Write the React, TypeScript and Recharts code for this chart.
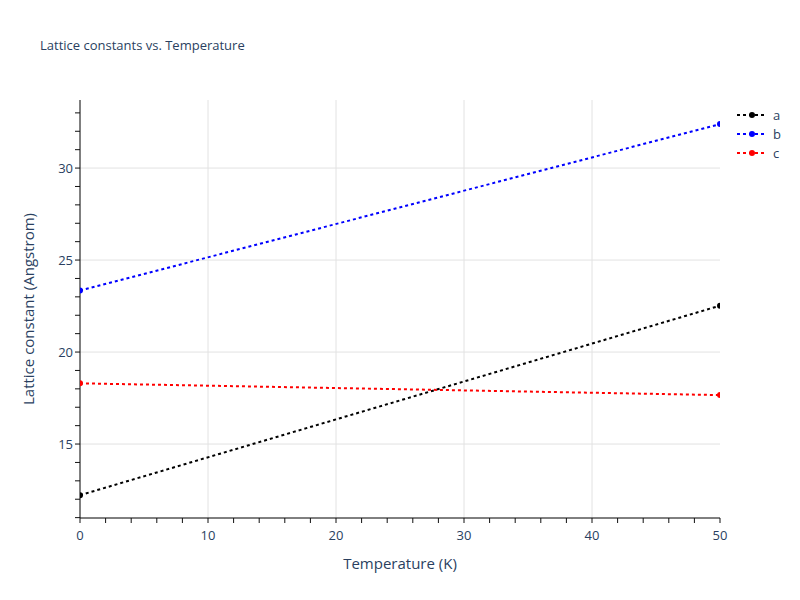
import React from 'react';
import { LineChart, Line, XAxis, YAxis, CartesianGrid, Legend } from 'recharts';

const temperatures = [0, 50];
const seriesA = [12.22, 22.52];
const seriesB = [23.34, 32.39];
const seriesC = [18.3, 17.66];
const seriesKeys = ['a', 'b', 'c'];
const seriesColors = ['#000000', '#0000ff', '#ff0000'];
const xTicks = [0, 2, 4, 6, 8, 10, 12, 14, 16, 18, 20, 22, 24, 26, 28, 30, 32, 34, 36, 38, 40, 42, 44, 46, 48, 50];
const xLabelTicks = [0, 10, 20, 30, 40, 50];
const yTicks = [11, 12, 13, 14, 15, 16, 17, 18, 19, 20, 21, 22, 23, 24, 25, 26, 27, 28, 29, 30, 31, 32, 33];
const yLabelTicks = [15, 20, 25, 30];
const xGrid = [10, 20, 30, 40];
const yGrid = [15, 20, 25, 30];
const xDomain = [0, 50];
const yDomain = [10.98, 33.7];

const chartTitle = 'Lattice constants vs. Temperature';
const xTitle = 'Temperature (K)';
const yTitle = 'Lattice constant (Angstrom)';

const data = temperatures.map((t, i) => ({ t, a: seriesA[i], b: seriesB[i], c: seriesC[i] }));

const FONT = '"Open Sans", verdana, arial, sans-serif';
const TXT = '#2a3f5f';

const YTick = (props: any) => {
  const { x, y, payload } = props;
  if (!yLabelTicks.includes(payload.value)) return <g />;
  return (
    <text x={x} y={y} dy="0.35em" textAnchor="end" fill={TXT} fontSize={13} fontFamily={FONT}>
      {payload.value}
    </text>
  );
};

const XTick = (props: any) => {
  const { x, y, payload } = props;
  if (!xLabelTicks.includes(payload.value)) return <g />;
  return (
    <text x={x} y={y} dy="0.71em" textAnchor="middle" fill={TXT} fontSize={13} fontFamily={FONT}>
      {payload.value}
    </text>
  );
};

const renderLegend = () => (
  <svg width={60} height={64}>
    {seriesKeys.map((k, i) => (
      <g key={k} transform={`translate(0, ${10 + i * 19})`}>
        <line x1={2} x2={31} y1={0} y2={0} stroke={seriesColors[i]} strokeWidth={2} strokeDasharray="3 3" />
        <circle cx={17} cy={0} r={3} fill={seriesColors[i]} />
        <text x={38} y={0} dy="0.35em" fill={TXT} fontSize={13} fontFamily={FONT}>
          {k}
        </text>
      </g>
    ))}
  </svg>
);

export default function App() {
  return (
    <div style={{ position: 'absolute', left: 0, top: 0, width: 800, height: 600, background: '#fff', fontFamily: FONT }}>
      <LineChart width={800} height={600} data={data} margin={{ top: 100, right: 80, bottom: 52, left: 0 }}>
        <CartesianGrid horizontalValues={yGrid} verticalValues={xGrid} stroke="#e2e2e2" strokeWidth={1} />
        <XAxis
          dataKey="t"
          type="number"
          domain={xDomain}
          ticks={xTicks}
          allowDataOverflow
          height={30}
          tickSize={5}
          tickMargin={8}
          tick={<XTick />}
          tickLine={{ stroke: '#111' }}
          axisLine={{ stroke: '#000', strokeWidth: 1 }}
          interval={0}
        />
        <YAxis
          type="number"
          domain={yDomain}
          ticks={yTicks}
          allowDataOverflow
          width={80}
          tickSize={5}
          tickMargin={2}
          tick={<YTick />}
          tickLine={{ stroke: '#111' }}
          axisLine={{ stroke: '#000', strokeWidth: 1 }}
          interval={0}
        />
        <Legend
          layout="vertical"
          align="center"
          verticalAlign="middle"
          content={renderLegend}
          wrapperStyle={{ left: 735, top: 105, width: 60, height: 64 }}
        />
        {seriesKeys.map((k, i) => (
          <Line
            key={k}
            dataKey={k}
            type="linear"
            stroke={seriesColors[i]}
            strokeWidth={2}
            strokeDasharray="3 3"
            dot={{ r: 3, fill: seriesColors[i], stroke: seriesColors[i], strokeWidth: 0 }}
            activeDot={false}
            isAnimationActive={false}
          />
        ))}
      </LineChart>
      <div style={{ position: 'absolute', left: 40, top: 36, fontSize: 13, color: TXT, whiteSpace: 'nowrap' }}>{chartTitle}</div>
      <div
        style={{
          position: 'absolute',
          left: 400,
          top: 563,
          transform: 'translate(-50%, -50%)',
          fontSize: 15,
          color: TXT,
          whiteSpace: 'nowrap',
        }}
      >
        {xTitle}
      </div>
      <div
        style={{
          position: 'absolute',
          left: 28,
          top: 309,
          transform: 'translate(-50%, -50%) rotate(-90deg)',
          fontSize: 15,
          color: TXT,
          whiteSpace: 'nowrap',
        }}
      >
        {yTitle}
      </div>
    </div>
  );
}
